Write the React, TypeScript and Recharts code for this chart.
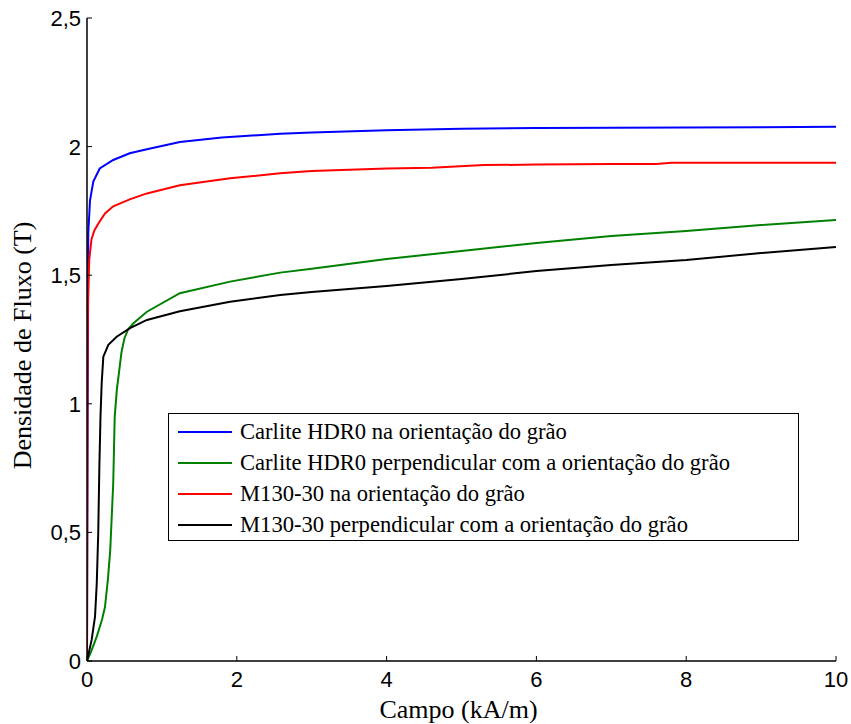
import React from 'react';
import { LineChart, Line, XAxis, YAxis, Legend, Label } from 'recharts';

// Campo (kA/m) / Densidade de Fluxo (T) pairs
const carliteRD: [number, number][] = [
  [0, 0], [0.004, 0.5], [0.008, 0.9], [0.012, 1.2], [0.015, 1.42], [0.017, 1.663],
  [0.04, 1.79], [0.084, 1.864], [0.17, 1.915], [0.35, 1.948], [0.57, 1.974],
  [0.8, 1.99], [1.24, 2.018], [1.8, 2.035], [2.58, 2.05], [3, 2.055], [4, 2.064],
  [5, 2.069], [6, 2.072], [7, 2.073], [8, 2.074], [9, 2.075], [10, 2.077],
];
const carliteTD: [number, number][] = [
  [0, 0], [0.06, 0.04], [0.13, 0.095], [0.2, 0.16], [0.24, 0.21], [0.28, 0.32],
  [0.31, 0.43], [0.33, 0.56], [0.35, 0.69], [0.36, 0.82], [0.37, 0.95], [0.4, 1.06],
  [0.42, 1.105], [0.46, 1.2], [0.5, 1.255], [0.55, 1.29], [0.62, 1.313], [0.8, 1.358],
  [1.24, 1.43], [1.91, 1.475], [2.58, 1.51], [3, 1.525], [4, 1.563], [5, 1.594],
  [6, 1.625], [7, 1.652], [8, 1.672], [9, 1.695], [10, 1.715],
];
const m130RD: [number, number][] = [
  [0, 0], [0.003, 0.5], [0.006, 1.0], [0.01, 1.3], [0.015, 1.416], [0.03, 1.56],
  [0.06, 1.64], [0.1, 1.675], [0.15, 1.70], [0.24, 1.74], [0.35, 1.768], [0.57, 1.795],
  [0.8, 1.818], [1.24, 1.85], [1.91, 1.877], [2.58, 1.896], [3, 1.905], [3.5, 1.91],
  [4, 1.915], [4.6, 1.918], [5.3, 1.928], [6, 1.93], [7, 1.932], [7.6, 1.932],
  [7.8, 1.937], [9, 1.937], [10, 1.937],
];
const m130TD: [number, number][] = [
  [0, 0], [0.03, 0.04], [0.062, 0.082], [0.107, 0.172], [0.13, 0.3], [0.15, 0.497],
  [0.165, 0.755], [0.18, 0.95], [0.196, 1.08], [0.218, 1.183], [0.285, 1.229],
  [0.396, 1.261], [0.574, 1.294], [0.8, 1.326], [1.24, 1.36], [1.91, 1.397],
  [2.58, 1.423], [3, 1.435], [4, 1.458], [5, 1.485], [6, 1.516], [7, 1.54],
  [8, 1.559], [9, 1.586], [10, 1.61],
];

const xTicks = [0, 2, 4, 6, 8, 10];
const yTicks = [0, 0.5, 1, 1.5, 2, 2.5];

const seriesNames = [
  'Carlite HDR0 na orientação do grão',
  'Carlite HDR0 perpendicular com a orientação do grão',
  'M130-30 na orientação do grão',
  'M130-30 perpendicular com a orientação do grão',
];
const seriesColors = ['#0000ff', '#008000', '#ff0000', '#000000'];
const seriesData = [carliteRD, carliteTD, m130RD, m130TD];

const toRows = (arr: [number, number][]) => arr.map(([h, b]) => ({ h, b }));

const SANS = '"Liberation Sans", Arial, sans-serif';
const SERIF = '"Liberation Serif", "Times New Roman", serif';
const TICK_LEN = 5;

const fmt = (v: number) => String(v).replace('.', ',');

const BottomTick = (props: any) => {
  const { x, y, payload } = props;
  return (
    <g>
      <line x1={x} y1={y} x2={x} y2={y - TICK_LEN} stroke="#000" strokeWidth={1} />
      <text x={x} y={y + 26} textAnchor="middle" fontFamily={SANS} fontSize={22} fill="#000">
        {fmt(payload.value)}
      </text>
    </g>
  );
};
const TopTick = (props: any) => {
  const { x, y } = props;
  return <line x1={x} y1={y} x2={x} y2={y + TICK_LEN} stroke="#000" strokeWidth={1} />;
};
const LeftTick = (props: any) => {
  const { x, y, payload } = props;
  return (
    <g>
      <line x1={x} y1={y} x2={x + TICK_LEN} y2={y} stroke="#000" strokeWidth={1} />
      <text x={x - 6} y={y + 8} textAnchor="end" fontFamily={SANS} fontSize={22} fill="#000">
        {fmt(payload.value)}
      </text>
    </g>
  );
};
const RightTick = (props: any) => {
  const { x, y } = props;
  return <line x1={x} y1={y} x2={x - TICK_LEN} y2={y} stroke="#000" strokeWidth={1} />;
};

const renderLegend = () => (
  <div
    style={{
      border: '1.5px solid #000',
      background: '#fff',
      boxSizing: 'border-box',
      width: 631,
      height: 128,
      paddingTop: 2,
    }}
  >
    {seriesNames.map((name, i) => (
      <div key={name} style={{ display: 'flex', alignItems: 'center', height: 31 }}>
        <div style={{ marginLeft: 9, width: 54, height: 2, background: seriesColors[i] }} />
        <span
          style={{
            marginLeft: 8,
            fontFamily: SERIF,
            fontSize: 22.6,
            color: '#000',
            whiteSpace: 'nowrap',
            lineHeight: '31px',
          }}
        >
          {name}
        </span>
      </div>
    ))}
  </div>
);

export default function App() {
  return (
    <div style={{ position: 'absolute', left: 0, top: 0, width: 851, height: 724, background: '#fff' }}>
      <LineChart width={851} height={724} margin={{ top: 18, right: 15, left: 0, bottom: 0 }}>
        <XAxis
          dataKey="h"
          type="number"
          domain={[0, 10]}
          ticks={xTicks}
          interval={0}
          allowDataOverflow
          height={63}
          tickSize={0}
          tickMargin={0}
          tick={<BottomTick />}
          axisLine={{ stroke: '#000', strokeWidth: 1.5 }}
        >
          <Label
            content={(p: any) => {
              const vb = p.viewBox;
              return (
                <text x={vb.x + vb.width / 2 - 3} y={718} textAnchor="middle" fontFamily={SERIF} fontSize={26} fill="#000">
                  Campo (kA/m)
                </text>
              );
            }}
          />
        </XAxis>
        <XAxis
          xAxisId="top"
          orientation="top"
          dataKey="h"
          type="number"
          domain={[0, 10]}
          ticks={xTicks}
          interval={0}
          allowDataOverflow
          height={0}
          tickSize={0}
          tickMargin={0}
          tick={<TopTick />}
          axisLine={{ stroke: '#000', strokeWidth: 1.5 }}
        />
        <YAxis
          type="number"
          domain={[0, 2.5]}
          ticks={yTicks}
          interval={0}
          allowDataOverflow
          width={87}
          tickSize={0}
          tickMargin={0}
          tick={<LeftTick />}
          axisLine={{ stroke: '#000', strokeWidth: 1.5 }}
        >
          <Label
            content={(p: any) => {
              const vb = p.viewBox;
              const cy = vb.y + vb.height / 2 + 6;
              return (
                <text
                  x={31}
                  y={cy}
                  transform={`rotate(-90, 31, ${cy})`}
                  textAnchor="middle"
                  fontFamily={SERIF}
                  fontSize={26}
                  fill="#000"
                >
                  Densidade de Fluxo (T)
                </text>
              );
            }}
          />
        </YAxis>
        <YAxis
          yAxisId="right"
          orientation="right"
          type="number"
          domain={[0, 2.5]}
          ticks={yTicks}
          interval={0}
          allowDataOverflow
          width={0}
          tickSize={0}
          tickMargin={0}
          tick={<RightTick />}
          axisLine={{ stroke: '#000', strokeWidth: 1.5 }}
        />
        {seriesData.map((d, i) => (
          <Line
            key={seriesNames[i]}
            data={toRows(d)}
            dataKey="b"
            name={seriesNames[i]}
            type="linear"
            stroke={seriesColors[i]}
            strokeWidth={2}
            dot={false}
            activeDot={false}
            isAnimationActive={false}
          />
        ))}
        <Legend
          layout="vertical"
          align="center"
          verticalAlign="middle"
          content={renderLegend}
          wrapperStyle={{ position: 'absolute', left: 168, top: 413, width: 631, height: 128 }}
        />
      </LineChart>
    </div>
  );
}
